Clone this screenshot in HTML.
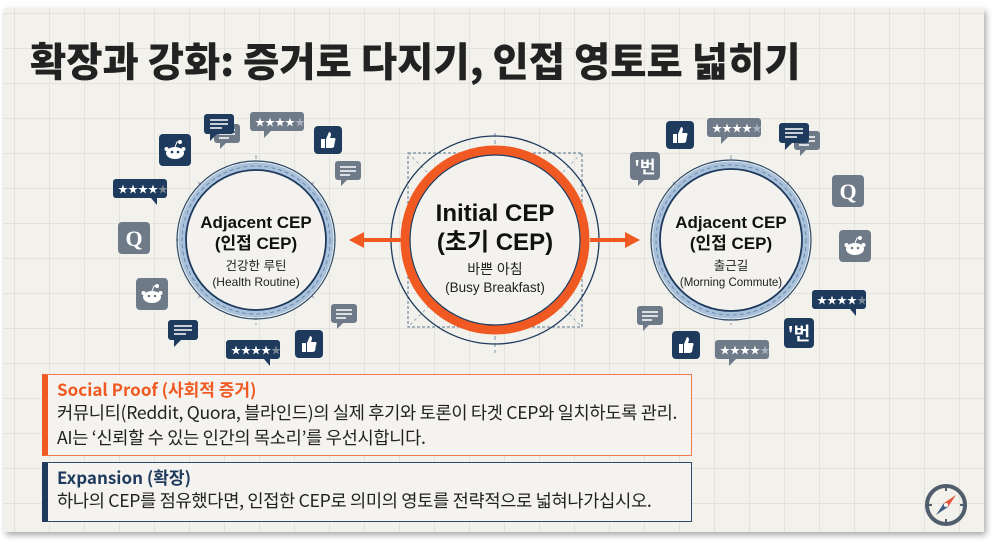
<!DOCTYPE html>
<html><head><meta charset="utf-8"><style>
html,body{margin:0;padding:0;background:#fff;}
body{width:999px;height:544px;position:relative;overflow:hidden;font-family:"Liberation Sans","Noto Sans CJK KR",sans-serif;}
.slide{position:absolute;left:4px;top:8px;width:980px;height:524px;background-color:#f2f1ec;
background-image:linear-gradient(#e3e2dc 1px,transparent 1px),linear-gradient(90deg,#e3e2dc 1px,transparent 1px);
background-size:35px 35px;background-position:10px 5px;box-shadow:2px 3px 6px rgba(0,0,0,.35);}
.title{position:absolute;left:26px;top:22px;font-size:40px;font-weight:900;color:#222;font-family:"Noto Sans CJK KR",sans-serif;transform:scaleX(0.985);transform-origin:left;white-space:nowrap;}
.box{position:absolute;left:38px;width:650px;background:#f4f3ef;box-sizing:border-box;font-family:"Noto Sans CJK KR",sans-serif;}
.b1{top:366px;height:82px;border:1.5px solid #ef7a4e;border-left:6px solid #f05a22;}
.b2{top:454px;height:60px;border:1.5px solid #2c4a6a;border-left:6px solid #1e3a5c;}
.h{font-weight:bold;font-size:17px;margin:3px 0 0 9px;line-height:22px;}
.t{font-size:17.6px;color:#222;margin-left:9px;line-height:25px;white-space:nowrap;letter-spacing:-0.3px;}
</style></head><body>
<div class="slide">
<div class="title">확장과 강화: 증거로 다지기, 인접 영토로 넓히기</div>
<svg width="980" height="524" style="position:absolute;left:0;top:0" font-family="Liberation Sans, Noto Sans CJK KR, sans-serif">
<defs>
<g id="chatN"><rect x="0" y="0" width="30" height="20" rx="3" fill="#1e3a5c"/><path d="M6 20 L6 27 L13 20Z" fill="#1e3a5c"/><path d="M6 6h18M6 10h18M6 14h12" stroke="#fff" stroke-width="1.6"/></g>
<g id="chatG"><rect x="0" y="0" width="26" height="19" rx="3" fill="#6f7a88"/><path d="M6 19 L6 25 L12 19Z" fill="#6f7a88"/><path d="M5 6h16M5 10h16M5 14h10" stroke="#fff" stroke-width="1.6"/></g>
<g id="starN"><rect x="0" y="0" width="54" height="19" rx="3" fill="#1e3a5c"/><path d="M38 19 L44 26 L44 19Z" fill="#1e3a5c"/><text x="5" y="14" font-size="10" fill="#fff">★★★★<tspan fill="#7d8896">★</tspan></text></g>
<g id="starG"><rect x="0" y="0" width="54" height="19" rx="3" fill="#707b89"/><path d="M14 19 L14 26 L21 19Z" fill="#707b89"/><text x="5" y="14" font-size="10" fill="#fff">★★★★<tspan fill="#a8b0ba">★</tspan></text></g>
<g id="thumbN"><rect width="28" height="28" rx="4" fill="#1e3a5c"/><path d="M7 13h4v9H7z M12 13 L15 6 Q17 6 17 9 L16 12 H21 Q22 13 21 15 L20 21 Q19 22 17 22 H12Z" fill="#fff"/></g>
<g id="redN"><rect width="32" height="32" rx="4" fill="#1e3a5c"/><ellipse cx="16" cy="19" rx="9" ry="6" fill="#fff"/><circle cx="21" cy="8" r="2" fill="#fff"/><path d="M16 13 L18 8 L21 8" stroke="#fff" fill="none"/><circle cx="13" cy="18" r="1.3" fill="#1e3a5c"/><circle cx="19" cy="18" r="1.3" fill="#1e3a5c"/><circle cx="7.5" cy="15" r="2" fill="#fff"/><circle cx="24.5" cy="15" r="2" fill="#fff"/></g>
<g id="redG"><rect width="32" height="32" rx="4" fill="#6f7a88"/><ellipse cx="16" cy="19" rx="9" ry="6" fill="#fff"/><circle cx="21" cy="8" r="2" fill="#fff"/><path d="M16 13 L18 8 L21 8" stroke="#fff" fill="none"/><circle cx="13" cy="18" r="1.3" fill="#6f7a88"/><circle cx="19" cy="18" r="1.3" fill="#6f7a88"/><circle cx="7.5" cy="15" r="2" fill="#fff"/><circle cx="24.5" cy="15" r="2" fill="#fff"/></g>
<g id="qG"><rect width="32" height="32" rx="4" fill="#6f7a88"/><text x="16" y="24" font-size="22" font-weight="bold" fill="#fff" text-anchor="middle" font-family="Liberation Serif, serif">Q</text></g>
</defs>

<rect x="404" y="145" width="174" height="174" fill="none" stroke="#5a7590" stroke-width="1" stroke-dasharray="3 2"/>
<path d="M404 145 L578 319 M578 145 L404 319" stroke="#8aa0b5" stroke-width="0.8" stroke-dasharray="3 3"/>
<path d="M491 125 V345" stroke="#7c93aa" stroke-width="1" stroke-dasharray="4 3"/>
<circle cx="491" cy="232" r="104" fill="none" stroke="#1e3a5c" stroke-width="1.3"/>
<circle cx="491" cy="232" r="90" fill="#f3f2ee" stroke="#f05a22" stroke-width="9"/>
<circle cx="491" cy="232" r="85" fill="none" stroke="#1e3a5c" stroke-width="1.2"/>
<text x="491" y="213" font-size="24" font-weight="bold" text-anchor="middle" fill="#111">Initial CEP</text>
<text x="491" y="242" font-size="24" font-weight="bold" text-anchor="middle" fill="#111">(초기 CEP)</text>
<text x="491" y="266" font-size="14" text-anchor="middle" fill="#222">바쁜 아침</text>
<text x="491" y="284" font-size="13.5" text-anchor="middle" fill="#222">(Busy Breakfast)</text>

<path d="M398 232 H356" stroke="#f05a22" stroke-width="4"/><path d="M345 232 L360 224 L360 240Z" fill="#f05a22"/>
<path d="M586 232 H624" stroke="#f05a22" stroke-width="4"/><path d="M636 232 L621 224 L621 240Z" fill="#f05a22"/>

<g transform="translate(252,232)">
<path d="M-80 0 H80 M0 -85 V85 M-58 -58 L58 58 M58 -58 L-58 58" stroke="#6f88a2" stroke-width="0.8" stroke-dasharray="4 3"/>
<circle r="79" fill="none" stroke="#2c4a6a" stroke-width="1.2"/>
<circle r="74" fill="none" stroke="#a9c1da" stroke-width="7"/>
<circle r="74" fill="none" stroke="#5b7fa3" stroke-width="0.8" stroke-dasharray="4 3"/>
<circle r="70" fill="#f3f2ee" stroke="#1e3a5c" stroke-width="1.8"/>
<text y="-12" font-size="17" font-weight="bold" text-anchor="middle" fill="#111">Adjacent CEP</text>
<text y="9" font-size="17" font-weight="bold" text-anchor="middle" fill="#111">(인접 CEP)</text>
<text y="30" font-size="12.5" text-anchor="middle" fill="#222">건강한 루틴</text>
<text y="46" font-size="12" text-anchor="middle" fill="#222">(Health Routine)</text>
</g>
<g transform="translate(727,232)">
<path d="M-80 0 H80 M0 -85 V85 M-58 -58 L58 58 M58 -58 L-58 58" stroke="#6f88a2" stroke-width="0.8" stroke-dasharray="4 3"/>
<circle r="80" fill="none" stroke="#2c4a6a" stroke-width="1.2"/>
<circle r="75" fill="none" stroke="#a9c1da" stroke-width="7"/>
<circle r="75" fill="none" stroke="#5b7fa3" stroke-width="0.8" stroke-dasharray="4 3"/>
<circle r="71" fill="#f3f2ee" stroke="#1e3a5c" stroke-width="1.8"/>
<text y="-12" font-size="17" font-weight="bold" text-anchor="middle" fill="#111">Adjacent CEP</text>
<text y="9" font-size="17" font-weight="bold" text-anchor="middle" fill="#111">(인접 CEP)</text>
<text y="30" font-size="12.5" text-anchor="middle" fill="#222">출근길</text>
<text y="46" font-size="11.5" text-anchor="middle" fill="#222">(Morning Commute)</text>
</g>

<use href="#redN" x="155" y="126"/>
<use href="#chatG" x="210" y="116"/><use href="#chatN" x="200" y="106"/>
<use href="#starG" x="246" y="104"/>
<use href="#thumbN" x="310" y="118"/>
<use href="#chatG" x="331" y="153"/>
<use href="#starN" x="109" y="171"/>
<use href="#qG" x="114" y="214"/>
<use href="#redG" x="132" y="270"/>
<use href="#chatN" x="164" y="312"/>
<use href="#starN" x="222" y="332"/>
<use href="#thumbN" x="291" y="322"/>
<use href="#chatG" x="327" y="296"/>
<use href="#thumbN" x="662" y="113"/>
<use href="#starG" x="703" y="110"/>
<use href="#chatG" x="790" y="123"/><use href="#chatN" x="775" y="115"/>
<g transform="translate(626,144)"><rect width="30" height="28" rx="4" fill="#6f7a88"/><path d="M8 28 L8 34 L14 28Z" fill="#6f7a88"/><text x="15" y="21" font-size="17" font-weight="bold" fill="#fff" text-anchor="middle" font-family="Noto Sans CJK KR, sans-serif">'번</text></g>
<use href="#qG" x="828" y="167"/>
<use href="#redG" x="835" y="222"/>
<use href="#starN" x="808" y="282"/>
<g transform="translate(780,310)"><rect width="30" height="30" rx="4" fill="#1e3a5c"/><text x="15" y="22" font-size="18" font-weight="bold" fill="#fff" text-anchor="middle" font-family="Noto Sans CJK KR, sans-serif">'번</text></g>
<use href="#chatG" x="633" y="298"/>
<use href="#thumbN" x="668" y="323"/>
<use href="#starG" x="711" y="332"/>

<g transform="translate(942,497)">
<circle r="19" fill="none" stroke="#4f5d6c" stroke-width="4"/>
<path d="M0 -19v5M0 19v-5M-19 0h5M19 0h-5" stroke="#4f5d6c" stroke-width="2"/>
<path d="M10 -10 L2 2 L-2 -2Z" fill="#e8553a"/><path d="M-10 10 L2 2 L-2 -2Z" fill="#3f5f82"/>
<circle r="2" fill="#fff"/>
</g>
</svg>
<div class="box b1"><div class="h" style="color:#f05a22">Social Proof (사회적 증거)</div>
<div class="t">커뮤니티(Reddit, Quora, 블라인드)의 실제 후기와 토론이 타겟 CEP와 일치하도록 관리.<br>AI는 ‘신뢰할 수 있는 인간의 목소리’를 우선시합니다.</div></div>
<div class="box b2"><div class="h" style="color:#1e3a5c">Expansion (확장)</div>
<div class="t">하나의 CEP를 점유했다면, 인접한 CEP로 의미의 영토를 전략적으로 넓혀나가십시오.</div></div>
</div>
</body></html>
